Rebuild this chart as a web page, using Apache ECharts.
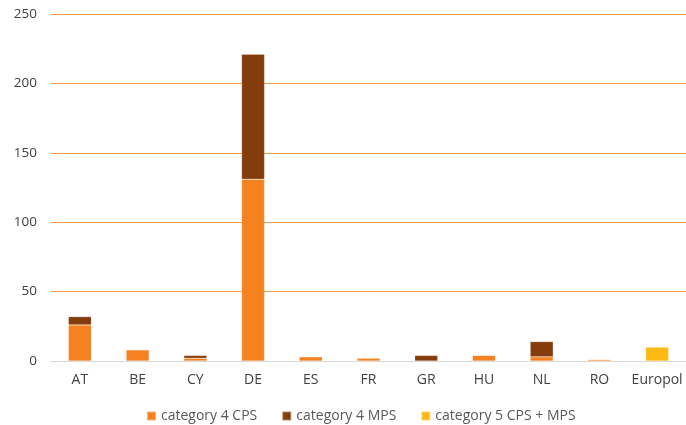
<!DOCTYPE html>
<html><head><meta charset="utf-8">
<script src="https://cdn.jsdelivr.net/npm/echarts@6/dist/echarts.min.js"></script>
<style>html,body{margin:0;padding:0;background:#fff}#c{width:686px;height:425px}</style>
</head><body><div id="c"></div>
<script>
const categories = ['AT','BE','CY','DE','ES','FR','GR','HU','NL','RO','Europol'];
const cat4CPS = [26, 8, 2, 131, 3, 2, 0, 4, 3, 1, 0];
const cat4MPS = [6, 0, 2, 90, 0, 0, 4, 0, 11, 0, 0];
const cat5 = [0, 0, 0, 0, 0, 0, 0, 0, 0, 0, 10];
const seriesNames = ['category 4 CPS','category 4 MPS','category 5 CPS + MPS'];
const colors = ['#F5821F','#843C0C','#FDB913'];
const font = "'Open Sans', 'Liberation Sans', sans-serif";
const chart = echarts.init(document.getElementById('c'));
const mk = (name, data, color) => ({
  name, type:'bar', stack:'s', data: data.map(v => v === 0 ? null : v),
  barWidth: 23, itemStyle:{color, borderColor:'rgba(255,255,255,0.4)', borderWidth:0.5}
});
chart.setOption({
  animation:false,
  grid:{left:51, right:0, top:14, bottom:64},
  legend:{top:404, left:141, itemWidth:9, itemHeight:9, itemGap:24,
    icon:'rect', textStyle:{color:'#595959', fontSize:14, fontFamily:font},
    data: seriesNames},
  xAxis:{type:'category', data:categories,
    axisLine:{lineStyle:{color:'#d9d9d9'}}, axisTick:{show:false},
    axisLabel:{color:'#404040', fontSize:14, fontFamily:font, margin:12, interval:0}},
  yAxis:{type:'value', min:0, max:250, interval:50,
    axisLine:{show:false}, axisTick:{show:false},
    splitLine:{lineStyle:{color:'#F59A45', width:1}},
    axisLabel:{color:'#404040', fontSize:13.5, fontFamily:font, margin:14}},
  series:[mk(seriesNames[0], cat4CPS, colors[0]), mk(seriesNames[1], cat4MPS, colors[1]), mk(seriesNames[2], cat5, colors[2])]
});
</script></body></html>
